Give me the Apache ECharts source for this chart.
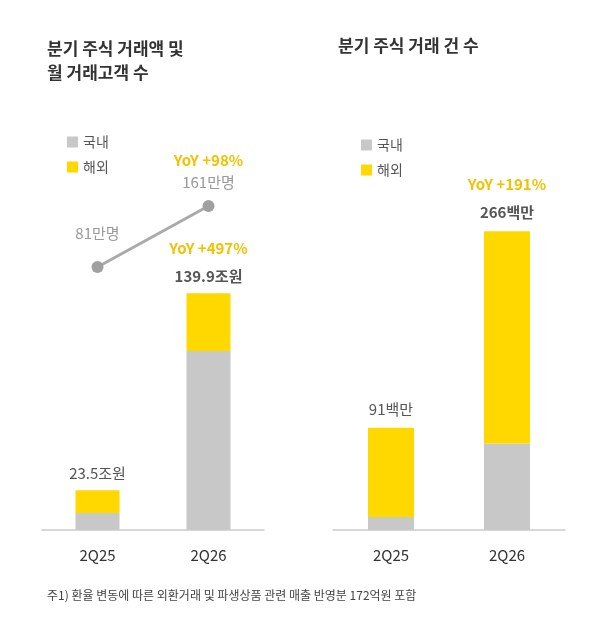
<!DOCTYPE html>
<html><head><meta charset="utf-8">
<script src="https://cdn.jsdelivr.net/npm/echarts@6/dist/echarts.min.js"></script>
<style>html,body{margin:0;padding:0;background:#fff}#c{width:593px;height:620px}</style>
</head><body><div id="c"></div>
<script>
const categories = ['2Q25', '2Q26'];
const amtDomestic = [10.0, 105.7];
const amtOverseas = [13.5, 34.2];
const amtTotalLabels = ['23.5조원', '139.9조원'];
const amtYoY = ['', 'YoY +497%'];
const customers = [81, 161];
const custLabels = ['81만명', '161만명'];
const custYoY = ['', 'YoY +98%'];
const cntDomestic = [11.6, 77];
const cntOverseas = [79.4, 189];
const cntTotalLabels = ['91백만', '266백만'];
const cntYoY = ['', 'YoY +191%'];

const GRAY = '#c8c8c8', YEL = '#ffd800', YTXT = '#f2c200', FONT = '"Noto Sans CJK KR", sans-serif';
const rich = {
  y: {color: YTXT, fontSize: 15, fontWeight: 'bold', fontFamily: FONT, lineHeight: 34},
  t: {color: '#555', fontSize: 15, fontWeight: 'bold', fontFamily: FONT, lineHeight: 22},
  t0: {color: '#555', fontSize: 15, fontFamily: FONT, lineHeight: 22}
};
function topLabels(yoy, tot) {
  return function (p) {
    const i = p.dataIndex;
    return (yoy[i] ? '{y|' + yoy[i] + '}\n' : '') + (yoy[i] ? '{t|' : '{t0|') + tot[i] + '}';
  };
}
const chart = echarts.init(document.getElementById('c'));
chart.setOption({
  animation: false,
  textStyle: {fontFamily: FONT},
  title: [
    {text: '분기 주식 거래액 및\n월 거래고객 수', left: 42, top: 32, textStyle: {fontSize: 17, fontWeight: 'bold', color: '#333', lineHeight: 24, fontFamily: FONT}},
    {text: '분기 주식 거래 건 수', left: 333, top: 32, textStyle: {fontSize: 17, fontWeight: 'bold', color: '#333', fontFamily: FONT}},
    {text: '주1) 환율 변동에 따른 외환거래 및 파생상품 관련 매출 반영분 172억원 포함', left: 42, top: 584, textStyle: {fontSize: 12, fontWeight: 'normal', color: '#444', fontFamily: FONT}}
  ],
  legend: [
    {data: ['국내', '해외'], orient: 'vertical', left: 62, top: 130, itemWidth: 11, itemHeight: 11, itemGap: 11, icon: 'rect', textStyle: {fontSize: 14, color: '#555'}},
    {data: ['국내 ', '해외 '], orient: 'vertical', left: 356, top: 133, itemWidth: 11, itemHeight: 11, itemGap: 11, icon: 'rect', textStyle: {fontSize: 14, color: '#555'}}
  ],
  grid: [
    {left: 42, width: 222, top: 100, bottom: 90},
    {left: 333, width: 232, top: 100, bottom: 90}
  ],
  xAxis: [0, 1].map(g => ({type: 'category', gridIndex: g, data: categories, axisLine: {lineStyle: {color: '#ccc', width: 1.5}}, axisTick: {show: false}, axisLabel: {fontSize: 15, color: '#333', margin: 18}})),
  yAxis: [
    {gridIndex: 0, min: 0, max: 254, show: false},
    {gridIndex: 0, min: -264, max: 300, show: false},
    {gridIndex: 1, min: 0, max: 383, show: false}
  ],
  series: [
    {name: '국내', type: 'bar', stack: 'a', xAxisIndex: 0, yAxisIndex: 0, barWidth: 44, itemStyle: {color: GRAY}, data: amtDomestic},
    {name: '해외', type: 'bar', stack: 'a', xAxisIndex: 0, yAxisIndex: 0, barWidth: 44, itemStyle: {color: YEL}, data: amtOverseas,
      label: {show: true, position: 'top', distance: 6, formatter: topLabels(amtYoY, amtTotalLabels), rich: rich}},
    {name: '고객', type: 'line', xAxisIndex: 0, yAxisIndex: 1, data: customers, symbol: 'circle', symbolSize: 12,
      lineStyle: {color: '#aaa', width: 3}, itemStyle: {color: '#a0a0a0'},
      label: {show: true, formatter: function (p) { const i = p.dataIndex; return (custYoY[i] ? '{y|' + custYoY[i] + '}\n' : '') + '{g|' + custLabels[i] + '}'; },
        position: 'top', distance: 8,
        rich: {y: {color: YTXT, fontSize: 15, fontWeight: 'bold', lineHeight: 24}, g: {color: '#999', fontSize: 15, lineHeight: 20}}},
      labelLayout: function (p) { return p.dataIndex === 0 ? {dx: 0, dy: -10} : {}; }},
    {name: '국내 ', type: 'bar', stack: 'b', xAxisIndex: 1, yAxisIndex: 2, barWidth: 46, itemStyle: {color: GRAY}, data: cntDomestic},
    {name: '해외 ', type: 'bar', stack: 'b', xAxisIndex: 1, yAxisIndex: 2, barWidth: 46, itemStyle: {color: YEL}, data: cntOverseas,
      label: {show: true, position: 'top', distance: 8, formatter: topLabels(cntYoY, cntTotalLabels), rich: rich}}
  ]
});
</script></body></html>
